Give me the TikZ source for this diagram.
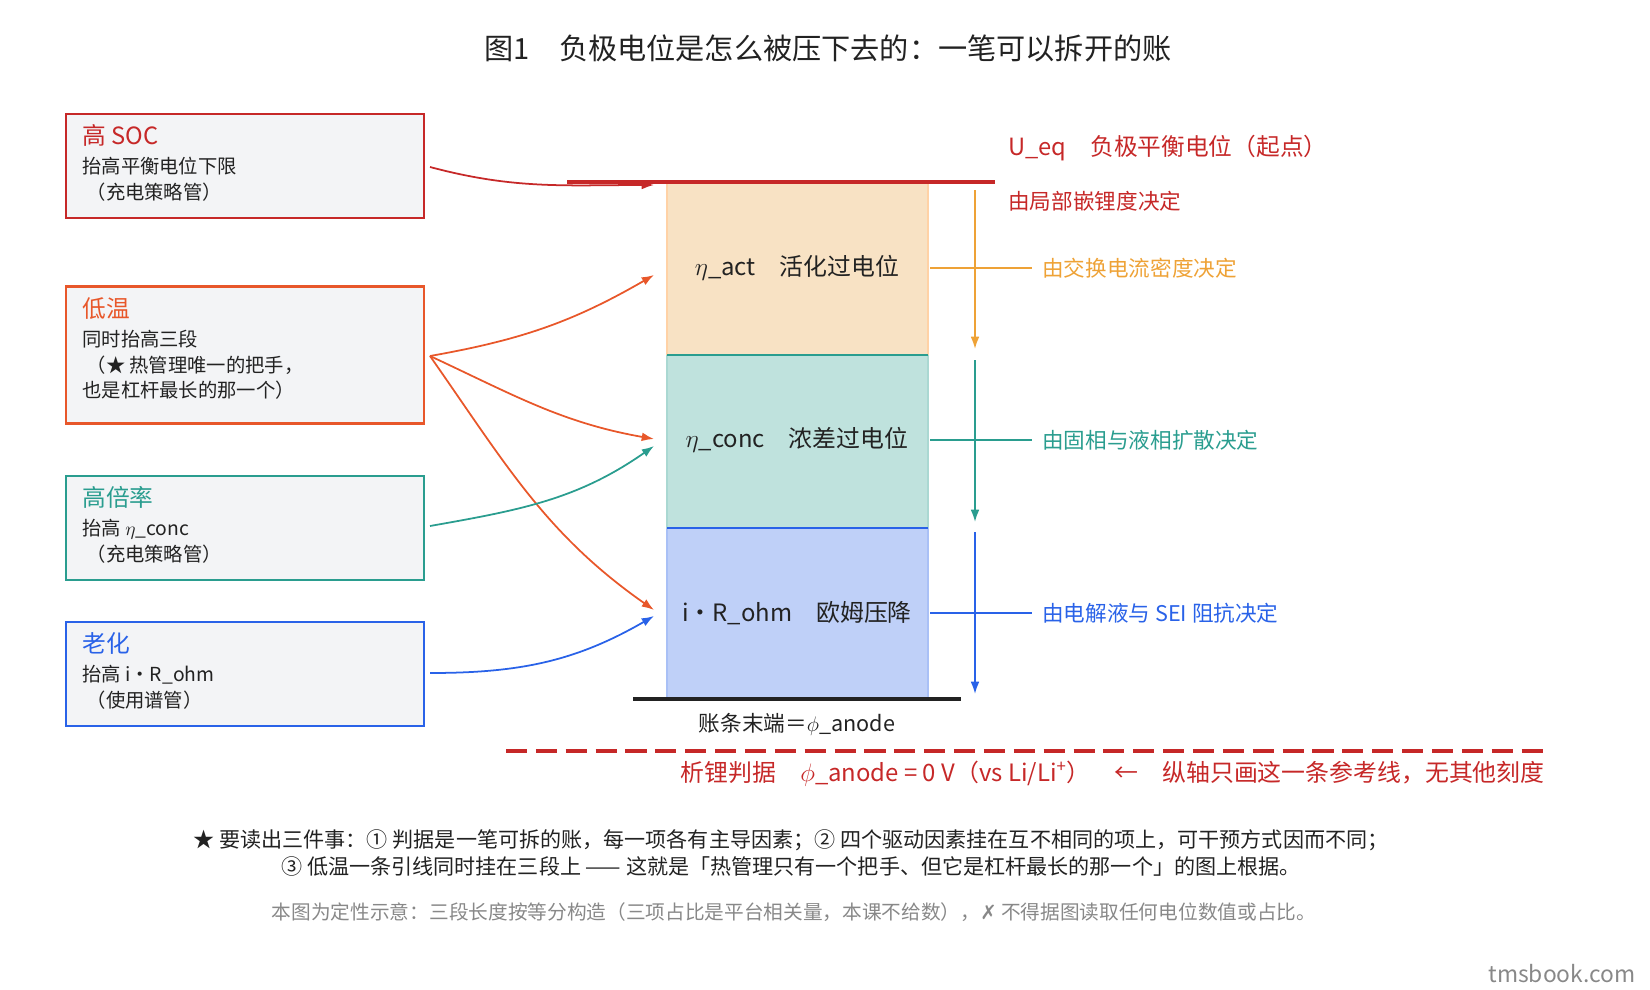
\documentclass[tikz,border=0pt]{standalone}
\usepackage{fontspec}
\setmainfont{Noto Sans CJK SC}
\newfontfamily\symfont{DejaVu Sans}
\usetikzlibrary{positioning,arrows.meta}
\definecolor{cRed}{HTML}{C62828}
\definecolor{cOrange}{HTML}{E8572A}
\definecolor{cAmber}{HTML}{EEA236}
\definecolor{cTeal}{HTML}{2A9D8F}
\definecolor{cBlue}{HTML}{2962E8}
\definecolor{cTxt}{HTML}{222222}
\definecolor{cGrey}{HTML}{888888}
\definecolor{boxFill}{HTML}{F3F4F6}
\definecolor{actFill}{HTML}{F8E2C4}
\tikzset{
  factor/.style={draw=#1, line width=1.6pt, fill=boxFill, minimum width=7.16cm, minimum height=2.08cm},
  head/.style={anchor=north west, text=#1, font=\fontsize{13.5}{15}\selectfont, inner sep=0pt},
  body/.style={anchor=north west, text=cTxt, font=\fontsize{11}{14.5}\selectfont, align=left, inner sep=0pt},
  seg/.style={font=\fontsize{13.6}{16}\selectfont, text=cTxt},
  note/.style={font=\fontsize{12.3}{15}\selectfont, text=#1, anchor=west, inner sep=0pt},
  lead/.style={-{Latex[length=7pt,width=5pt]}, #1, line width=1pt},
}
\begin{document}
\begin{tikzpicture}[x=0.02cm, y=-0.02cm]
\useasboundingbox (0,0) rectangle (1650,990);
% title
\node[font=\fontsize{16.6}{18}\selectfont, text=cTxt] (title) at (828,48) {图1\quad 负极电位是怎么被压下去的：一笔可以拆开的账};
% column of three segments
\fill[fill=actFill] (667,182) rectangle (928,355);
\fill[fill=cTeal!30!white] (667,355) rectangle (928,528);
\fill[fill=cBlue!30!white] (667,528) rectangle (928,699);
\draw[orange!35, line width=1pt] (667,182) -- (667,355) (928,182) -- (928,355);
\draw[cTeal!40, line width=1pt] (667,355) -- (667,528) (928,355) -- (928,528);
\draw[cBlue!40, line width=1pt] (667,528) -- (667,699) (928,528) -- (928,699);
\draw[cTeal, line width=1.3pt] (667,355) -- (928,355);
\draw[cBlue, line width=1.3pt] (667,528) -- (928,528);
\node[seg] (act) at (797,268) {$\eta$\_act\quad 活化过电位};
\node[seg] (conc) at (797,440) {$\eta$\_conc\quad 浓差过电位};
\node[seg] (ohm) at (797,613) {i・R\_ohm\quad 欧姆压降};
\coordinate (actIn) at (654,275);
\coordinate (concIn) at (654,439);
\coordinate (concIn2) at (654,446);
\coordinate (ohmIn) at (654,610);
\coordinate (ohmIn2) at (654,616);
\coordinate (topIn) at (654,185);
% top and bottom lines
\draw[cRed, line width=2pt] (567,182) -- (995,182);
\draw[cTxt, line width=2pt] (633,699) -- (961,699);
\node[font=\fontsize{12.3}{14}\selectfont, text=cTxt] (endlbl) at (797,724) {账条末端＝$\phi$\_anode};
\node[note=cRed, font=\fontsize{13.5}{15}\selectfont] (ueq) at (1008,148) {U\_eq\quad 负极平衡电位（起点）};
\node[note=cRed] (ueq2) at (1008,201) {由局部嵌锂度决定};
% vertical arrows
\draw[lead=cAmber] (975,190) -- (975,349);
\draw[lead=cTeal] (975,360) -- (975,522);
\draw[lead=cBlue] (975,532) -- (975,694);
% right labels
\node[note=cAmber] (actR) at (1042,268) {由交换电流密度决定};
\node[note=cTeal] (concR) at (1042,440) {由固相与液相扩散决定};
\node[note=cBlue] (ohmR) at (1042,613) {由电解液与 SEI 阻抗决定};
\draw[cAmber, line width=1pt] (930,268) -- (1032,268);
\draw[cTeal, line width=1pt] (930,440) -- (1032,440);
\draw[cBlue, line width=1pt] (930,613) -- (1032,613);
% criterion line
\draw[cRed, line width=2.2pt, dash pattern=on 12pt off 5pt] (506,751) -- (1545,751);
\node[note=cRed, anchor=east, font=\fontsize{13.6}{15}\selectfont] (crit) at (1545,774) {析锂判据\quad $\phi$\_anode = 0 V（vs Li/Li\textsuperscript{+}）\quad ←\quad 纵轴只画这一条参考线，无其他刻度};
% factor boxes
\node[factor=cRed] (soc) at (245,166) {};
\node[head=cRed] (socH) at (82,124) {高 SOC};
\node[body, below=6pt of socH.south west, anchor=north west] (socB) {抬高平衡电位下限\\\ （充电策略管）};
\node[factor=cOrange, minimum height=2.74cm] (cold) at (245,355) {};
\node[head=cOrange] (coldH) at (82,297) {低温};
\node[body, below=6pt of coldH.south west, anchor=north west] (coldB) {同时抬高三段\\\ （★ 热管理唯一的把手，\\也是杠杆最长的那一个）};
\node[factor=cTeal] (rate) at (245,528) {};
\node[head=cTeal] (rateH) at (82,486) {高倍率};
\node[body, below=6pt of rateH.south west, anchor=north west] (rateB) {抬高 $\eta$\_conc\\\ （充电策略管）};
\node[factor=cBlue] (age) at (245,674) {};
\node[head=cBlue] (ageH) at (82,632) {老化};
\node[body, below=6pt of ageH.south west, anchor=north west] (ageB) {抬高 i・R\_ohm\\\ （使用谱管）};
% leads
\draw[lead=cRed] (430,167) to[out=-15, in=180] (topIn);
\draw[lead=cOrange] (430,356) to[out=10, in=210] (actIn);
\draw[lead=cOrange] (430,356) to[out=-25, in=170] (concIn);
\draw[lead=cOrange] (430,356) to[out=-55, in=145] (ohmIn);
\draw[lead=cTeal] (430,526) to[out=10, in=215] (concIn2);
\draw[lead=cBlue] (430,673) to[out=0, in=210] (ohmIn2);
% footnotes
\node[font=\fontsize{12}{15.5}\selectfont, text=cTxt, align=center] (foot) at (791,853) {★ 要读出三件事：① 判据是一笔可拆的账，每一项各有主导因素；② 四个驱动因素挂在互不相同的项上，可干预方式因而不同；\\③ 低温一条引线同时挂在三段上 —— 这就是「热管理只有一个把手、但它是杠杆最长的那一个」的图上根据。};
\node[font=\fontsize{11.2}{13}\selectfont, text=cGrey] (disc) at (794,912) {本图为定性示意：三段长度按等分构造（三项占比是平台相关量，本课不给数），{\symfont ✗} 不得据图读取任何电位数值或占比。};
\node[font=\fontsize{13}{15}\selectfont, text=cGrey, anchor=east] (mark) at (1642,974) {tmsbook.com};
\end{tikzpicture}
\end{document}
